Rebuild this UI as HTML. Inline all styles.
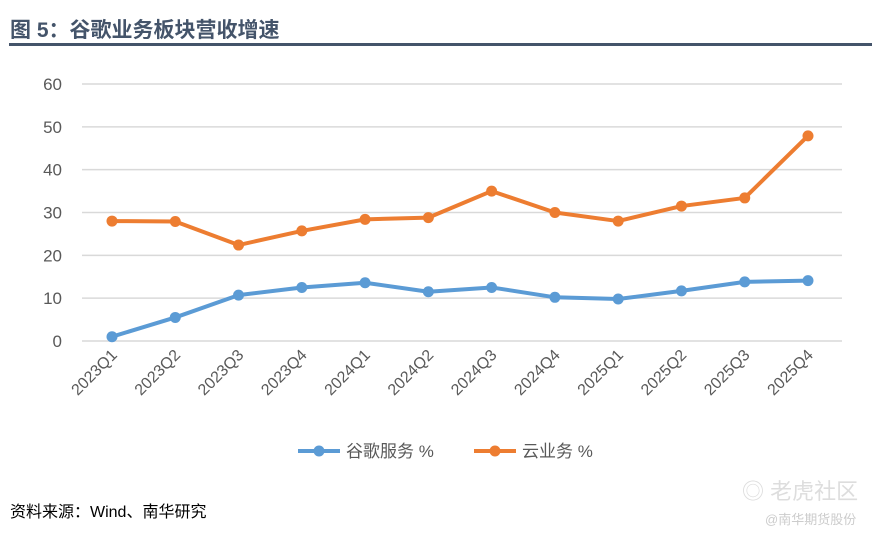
<!DOCTYPE html>
<html><head><meta charset="utf-8"><style>
body{margin:0;background:#fff;}
#wrap{position:relative;width:884px;height:538px;overflow:hidden;font-family:"Liberation Sans","Noto Sans CJK SC",sans-serif;}
</style></head><body>
<div id="wrap">
<div style="position:absolute;left:10px;top:14px;font-size:21px;font-weight:bold;color:#44546a;">图 5：谷歌业务板块营收增速</div>
<div style="position:absolute;left:9px;top:43px;width:863px;height:3px;background:#44546a;"></div>
<svg id="chart" width="884" height="538" style="position:absolute;left:0;top:0"></svg>
<div style="position:absolute;left:10px;top:498px;font-size:16px;color:#000;">资料来源：Wind、南华研究</div>
<div style="position:absolute;left:742px;top:474px;font-size:22px;color:#ddd;">◎ 老虎社区</div>
<div style="position:absolute;left:765px;top:509px;font-size:13px;color:#ccc;">@南华期货股份</div>
</div>
<script>
const categories=["2023Q1","2023Q2","2023Q3","2023Q4","2024Q1","2024Q2","2024Q3","2024Q4","2025Q1","2025Q2","2025Q3","2025Q4"];
const googleValues=[1,5.5,10.7,12.5,13.6,11.5,12.5,10.2,9.8,11.7,13.8,14.1];
const cloudValues=[28,27.9,22.4,25.7,28.4,28.8,35,30,28,31.5,33.4,47.9];
const yTicks=[0,10,20,30,40,50,60];
const seriesNames=["谷歌服务 %","云业务 %"];
const NS="http://www.w3.org/2000/svg";
const svg=document.getElementById('chart');
const x0=112,x1=808,y0=341,y60=84;
const xs=i=>x0+i*(x1-x0)/(categories.length-1);
const ys=v=>y0-(v/60)*(y0-y60);
function mk(t,a){const e=document.createElementNS(NS,t);for(const k in a)e.setAttribute(k,a[k]);svg.appendChild(e);return e;}
yTicks.forEach(t=>{
 const l=mk('line',{x1:82,x2:842,y1:ys(t),y2:ys(t),stroke:'#d9d9d9','stroke-width':1.5});
 
 
 const tx=mk('text',{x:62,y:ys(t)+6,'text-anchor':'end','font-size':17,fill:'#595959','font-family':'Liberation Sans, sans-serif'});
 tx.textContent=t;
 
 
});
categories.forEach((c,i)=>{
 const tx=mk('text',{x:xs(i)+6,y:356,'text-anchor':'end','font-size':16,fill:'#595959','font-family':'Liberation Sans, sans-serif',transform:`rotate(-45 ${xs(i)+6} 356)`});
 tx.textContent=c;
 
 
});
function series(vals,color,name){
 const p=mk('polyline',{points:vals.map((v,i)=>xs(i)+','+ys(v)).join(' '),fill:'none',stroke:color,'stroke-width':4,'stroke-linejoin':'round'});
 
 
 vals.forEach((v,i)=>{
  const c=mk('circle',{cx:xs(i),cy:ys(v),r:5.5,fill:color});
  
  
 });
}
series(googleValues,'#5b9bd5','google-services');
series(cloudValues,'#ed7d31','cloud');
const leg=[[298,'#5b9bd5',seriesNames[0]],[474,'#ed7d31',seriesNames[1]]];
leg.forEach(([lx,col,n],k)=>{
 const l=mk('line',{x1:lx,x2:lx+42,y1:451,y2:451,stroke:col,'stroke-width':4});
 
 
 const c=mk('circle',{cx:lx+21,cy:451,r:5.5,fill:col});
 
 
 const t=mk('text',{x:lx+48,y:457,'font-size':17,fill:'#595959','font-family':'Liberation Sans, Noto Sans CJK SC, sans-serif'});
 t.textContent=n;
 
 
});
</script>
</body></html>
